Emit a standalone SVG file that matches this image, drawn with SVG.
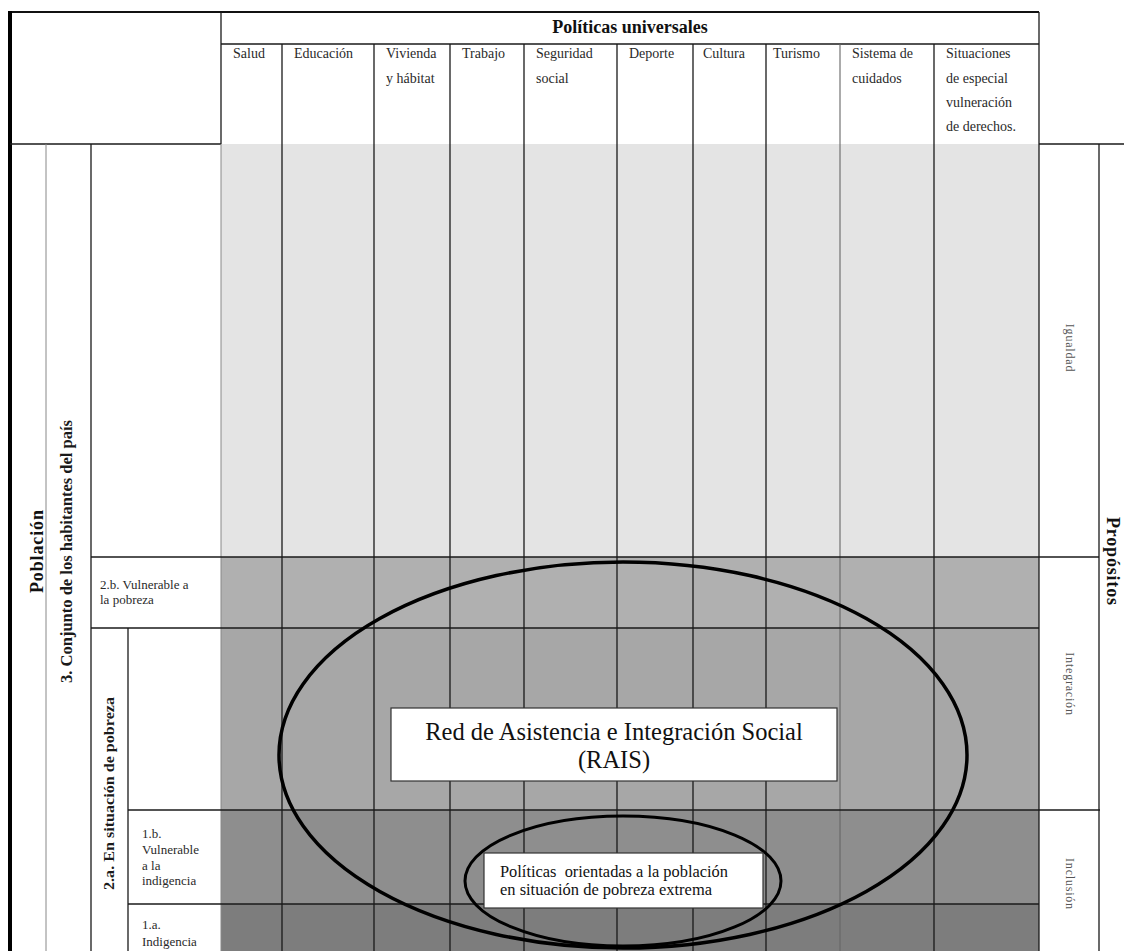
<svg xmlns="http://www.w3.org/2000/svg" width="1124" height="951" viewBox="0 0 1124 951">
<style>
text{font-family:"Liberation Serif","Times New Roman",serif;}
.hd{font-size:14px;fill:#2a2a2a;}
.lb{font-size:13px;fill:#2a2a2a;}
.pr{font-size:12px;fill:#555;letter-spacing:0.8px;}
.dk{stroke:#1a1a1a;stroke-width:1.3;fill:none;}
.lt{stroke:#888;stroke-width:1;fill:none;}
.ell{fill:none;stroke:#000;}
.box{fill:#fff;stroke:#333;stroke-width:1.2;}
</style>
<rect x="0" y="0" width="1124" height="951" fill="#fff"/>
<g id="bands">
<rect x="221" y="144" width="818" height="413" fill="#e4e4e4"/>
<rect x="221" y="557" width="818" height="71" fill="#b0b0b0"/>
<rect x="221" y="628" width="818" height="182" fill="#a7a7a7"/>
<rect x="221" y="810" width="818" height="94" fill="#8e8e8e"/>
<rect x="221" y="904" width="818" height="47" fill="#7d7d7d"/>
</g>
<g id="connectors">
<line x1="10" y1="12" x2="1039" y2="12" stroke="#111" stroke-width="2"/>
<line x1="10" y1="11" x2="10" y2="951" stroke="#000" stroke-width="4"/>
<line class="dk" x1="221" y1="12" x2="221" y2="144"/>
<line class="dk" x1="221" y1="44" x2="1039" y2="44"/>
<line class="dk" x1="1039" y1="12" x2="1039" y2="951"/>
<line class="dk" x1="10" y1="144" x2="221" y2="144"/>
<line class="dk" x1="1039" y1="144" x2="1124" y2="144"/>
<line class="dk" x1="1099" y1="144" x2="1099" y2="951"/>
<line class="lt" x1="46" y1="144" x2="46" y2="951"/>
<line class="dk" x1="91" y1="144" x2="91" y2="951"/>
<line class="lt" x1="221" y1="144" x2="221" y2="951"/>
<line class="dk" x1="128" y1="628" x2="128" y2="951"/>
<g id="columns">
<line class="dk" x1="282" y1="44" x2="282" y2="951"/>
<line class="dk" x1="374" y1="44" x2="374" y2="951"/>
<line class="dk" x1="450" y1="44" x2="450" y2="951"/>
<line class="dk" x1="524" y1="44" x2="524" y2="951"/>
<line class="dk" x1="617" y1="44" x2="617" y2="951"/>
<line class="dk" x1="693" y1="44" x2="693" y2="951"/>
<line class="dk" x1="766" y1="44" x2="766" y2="951"/>
<line x1="840" y1="44" x2="840" y2="951" stroke="#666" stroke-width="1.1"/>
<line class="dk" x1="934" y1="44" x2="934" y2="951"/>
</g>
<g id="rows">
<line class="dk" x1="91" y1="557" x2="1099" y2="557"/>
<line class="dk" x1="91" y1="628" x2="1039" y2="628"/>
<line class="dk" x1="128" y1="810" x2="1100" y2="810"/>
<line class="dk" x1="128" y1="904" x2="1039" y2="904"/>
</g>
</g>
<g id="header">
<text x="630" y="33" text-anchor="middle" font-size="18" font-weight="bold" fill="#111">Políticas universales</text>
<text class="hd" x="233" y="58">Salud</text>
<text class="hd" x="294" y="58">Educación</text>
<text class="hd" x="386" y="58">Vivienda</text>
<text class="hd" x="386" y="83">y hábitat</text>
<text class="hd" x="462" y="58">Trabajo</text>
<text class="hd" x="536" y="58">Seguridad</text>
<text class="hd" x="536" y="83">social</text>
<text class="hd" x="629" y="58">Deporte</text>
<text class="hd" x="703" y="58">Cultura</text>
<text class="hd" x="773" y="58">Turismo</text>
<text class="hd" x="852" y="58">Sistema de</text>
<text class="hd" x="852" y="83">cuidados</text>
<text class="hd" x="946" y="58">Situaciones</text>
<text class="hd" x="946" y="83">de especial</text>
<text class="hd" x="946" y="107">vulneración</text>
<text class="hd" x="946" y="131">de derechos.</text>
</g>
<g id="poblacion">
<text transform="translate(43,551.5) rotate(-90)" text-anchor="middle" font-size="18" font-weight="bold" fill="#111" textLength="83" lengthAdjust="spacing">Población</text>
</g>
<g id="conjunto">
<text transform="translate(72,551.5) rotate(-90)" text-anchor="middle" font-size="16" font-weight="bold" fill="#1a1a1a" textLength="263" lengthAdjust="spacingAndGlyphs">3. Conjunto de los habitantes del país</text>
</g>
<g id="vulnerable-pobreza">
<text class="lb" x="100" y="589">2.b. Vulnerable a</text>
<text class="lb" x="100" y="604">la pobreza</text>
</g>
<g id="situacion-pobreza">
<text transform="translate(114,793.5) rotate(-90)" text-anchor="middle" font-size="15" font-weight="bold" fill="#1a1a1a" textLength="193" lengthAdjust="spacingAndGlyphs">2.a. En situación de pobreza</text>
</g>
<g id="vulnerable-indigencia">
<text class="lb" x="142" y="838">1.b.</text>
<text class="lb" x="142" y="854">Vulnerable</text>
<text class="lb" x="142" y="869.5">a la</text>
<text class="lb" x="142" y="885">indigencia</text>
</g>
<g id="indigencia">
<text class="lb" x="142" y="929">1.a.</text>
<text class="lb" x="142" y="946">Indigencia</text>
</g>
<g id="propositos">
<text transform="translate(1107,561) rotate(90)" text-anchor="middle" font-size="18" font-weight="bold" fill="#111" textLength="88" lengthAdjust="spacing">Propósitos</text>
</g>
<g id="igualdad">
<text class="pr" transform="translate(1066,348) rotate(90)" text-anchor="middle">Igualdad</text>
</g>
<g id="integracion">
<text class="pr" transform="translate(1066,684) rotate(90)" text-anchor="middle">Integración</text>
</g>
<g id="inclusion">
<text class="pr" transform="translate(1066,884) rotate(90)" text-anchor="middle">Inclusión</text>
</g>
<g id="rais">
<ellipse class="ell" cx="623" cy="755" rx="344" ry="193" stroke-width="3.5"/>
<rect class="box" x="391" y="708" width="446" height="73"/>
<text x="614" y="740" text-anchor="middle" font-size="24.5" fill="#111">Red de Asistencia e Integración Social</text>
<text x="614" y="768" text-anchor="middle" font-size="24.5" fill="#111">(RAIS)</text>
</g>
<g id="pobreza-extrema">
<ellipse class="ell" cx="623" cy="881" rx="158" ry="65" stroke-width="3"/>
<rect class="box" x="484" y="853" width="279" height="55"/>
<text x="500" y="877" font-size="16" fill="#111" textLength="228" lengthAdjust="spacingAndGlyphs" xml:space="preserve">Políticas  orientadas a la población</text>
<text x="500" y="895" font-size="16" fill="#111" textLength="212" lengthAdjust="spacingAndGlyphs">en situación de pobreza extrema</text>
</g>
</svg>
